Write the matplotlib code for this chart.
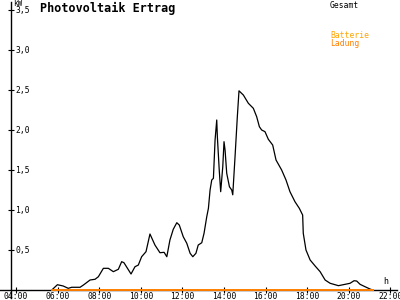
"""Photovoltaik Ertrag - Tagesverlauf der Leistung"""
import matplotlib
matplotlib.use('Agg')
from matplotlib import pyplot as plt

# Zeit in Stunden, Leistung in kW
zeit = [5.72, 5.99, 6.27, 6.51, 6.68, 7.08, 7.24, 7.56, 7.80, 7.96,
        8.20, 8.44, 8.68, 8.92, 9.08, 9.19, 9.53, 9.72, 9.88, 10.04,
        10.25, 10.44, 10.68, 10.92, 11.12, 11.25, 11.40, 11.56, 11.73, 11.85,
        12.04, 12.21, 12.37, 12.50, 12.65, 12.76, 12.93, 13.04, 13.17, 13.25,
        13.33, 13.41, 13.49, 13.57, 13.65, 13.68, 13.77, 13.84, 13.94, 14.00,
        14.05, 14.13, 14.26, 14.37, 14.42, 14.53, 14.64, 14.72, 14.93, 15.17,
        15.41, 15.57, 15.70, 15.81, 15.97, 16.13, 16.34, 16.50, 16.77, 16.98,
        17.17, 17.41, 17.62, 17.78, 17.81, 17.94, 18.14, 18.38, 18.62, 18.86,
        19.10, 19.50, 19.82, 20.06, 20.25, 20.38, 20.54, 20.78, 21.02, 21.15]
gesamt = [0.0, 0.066, 0.05, 0.021, 0.034, 0.034, 0.062, 0.125, 0.134, 0.166,
          0.271, 0.271, 0.229, 0.259, 0.354, 0.341, 0.2, 0.291, 0.312, 0.416,
          0.479, 0.7, 0.562, 0.466, 0.471, 0.416, 0.625, 0.759, 0.841, 0.812,
          0.666, 0.584, 0.459, 0.416, 0.459, 0.562, 0.591, 0.709, 0.916, 1.021,
          1.25, 1.375, 1.396, 1.875, 2.125, 1.916, 1.5, 1.229, 1.541, 1.854,
          1.75, 1.459, 1.291, 1.25, 1.19, 1.666, 2.166, 2.49, 2.437, 2.334,
          2.271, 2.166, 2.041, 2.0, 1.979, 1.884, 1.812, 1.625, 1.5, 1.375,
          1.229, 1.104, 1.021, 0.937, 0.709, 0.5, 0.375, 0.3, 0.229, 0.125,
          0.084, 0.054, 0.071, 0.084, 0.116, 0.112, 0.071, 0.041, 0.012, 0.0]
batterie = [0.0] * len(zeit)

xticks = [4, 6, 8, 10, 12, 14, 16, 18, 20, 22]
xlabels = ['04:00', '06:00', '08:00', '10:00', '12:00',
           '14:00', '16:00', '18:00', '20:00', '22:00']
yticks = [0.5, 1.0, 1.5, 2.0, 2.5, 3.0, 3.5]
ylabels = ['0,5', '1,0', '1,5', '2,0', '2,5', '3,0', '3,5']

font = 'DejaVu Sans Mono'
c_orange = '#FF8000'

fig = plt.figure(figsize=(4, 3), dpi=100)
ax = fig.add_axes([0, 0, 1, 1])
ax.set_xlim(3.231, 22.46)
ax.set_ylim(-0.125, 3.625)

ax.plot(zeit, gesamt, '-', color='black', lw=0.9, zorder=3)
ax.plot(zeit, batterie, '-', color=c_orange, lw=1.4, zorder=4)

# Achsen
x_achse = 3.736
ax.spines['top'].set_visible(False)
ax.spines['right'].set_visible(False)
ax.spines['left'].set_position(('data', x_achse))
ax.spines['bottom'].set_position(('data', 0))
ax.spines['left'].set_bounds(-0.1, 3.6)
ax.spines['bottom'].set_bounds(3.231, 22.33)
ax.spines['left'].set_linewidth(1.0)
ax.spines['bottom'].set_linewidth(1.0)

ax.set_xticks(xticks)
ax.set_xticklabels(xlabels, fontsize=5.8, family=font)
ax.set_yticks(yticks)
ax.set_yticklabels(ylabels, fontsize=5.8, family=font)
ax.tick_params(axis='x', direction='inout', length=4.5, width=0.8, pad=-0.5)
ax.tick_params(axis='y', direction='inout', length=4.5, width=0.8, pad=-5.6)
for lab in ax.get_yticklabels():
    lab.set_ha('left')

ax.annotate('', xy=(x_achse, 3.64), xytext=(x_achse, 3.45),
            arrowprops=dict(arrowstyle='->', lw=0.8, color='black',
                            mutation_scale=5, shrinkA=0, shrinkB=0))

fig.text(13 / 400, 1 - 4 / 300, 'kW', fontsize=5.5, family=font,
         va='center', ha='left')
fig.text(386 / 400, 1 - 282 / 300, 'h', fontsize=6, family=font,
         va='center', ha='center')
fig.text(40 / 400, 1 - 8 / 300, 'Photovoltaik Ertrag', fontsize=8.5,
         family=font, weight='bold', va='center', ha='left')
fig.text(330 / 400, 1 - 5 / 300, 'Gesamt', fontsize=5.8, family=font,
         va='center', ha='left')
fig.text(330 / 400, 1 - 35.5 / 300, 'Batterie', fontsize=5.8, family=font,
         va='center', ha='left', color='#FFA500')
fig.text(330 / 400, 1 - 43 / 300, 'Ladung', fontsize=5.8, family=font,
         va='center', ha='left', color=c_orange)

plt.savefig('out.png', dpi=100)
